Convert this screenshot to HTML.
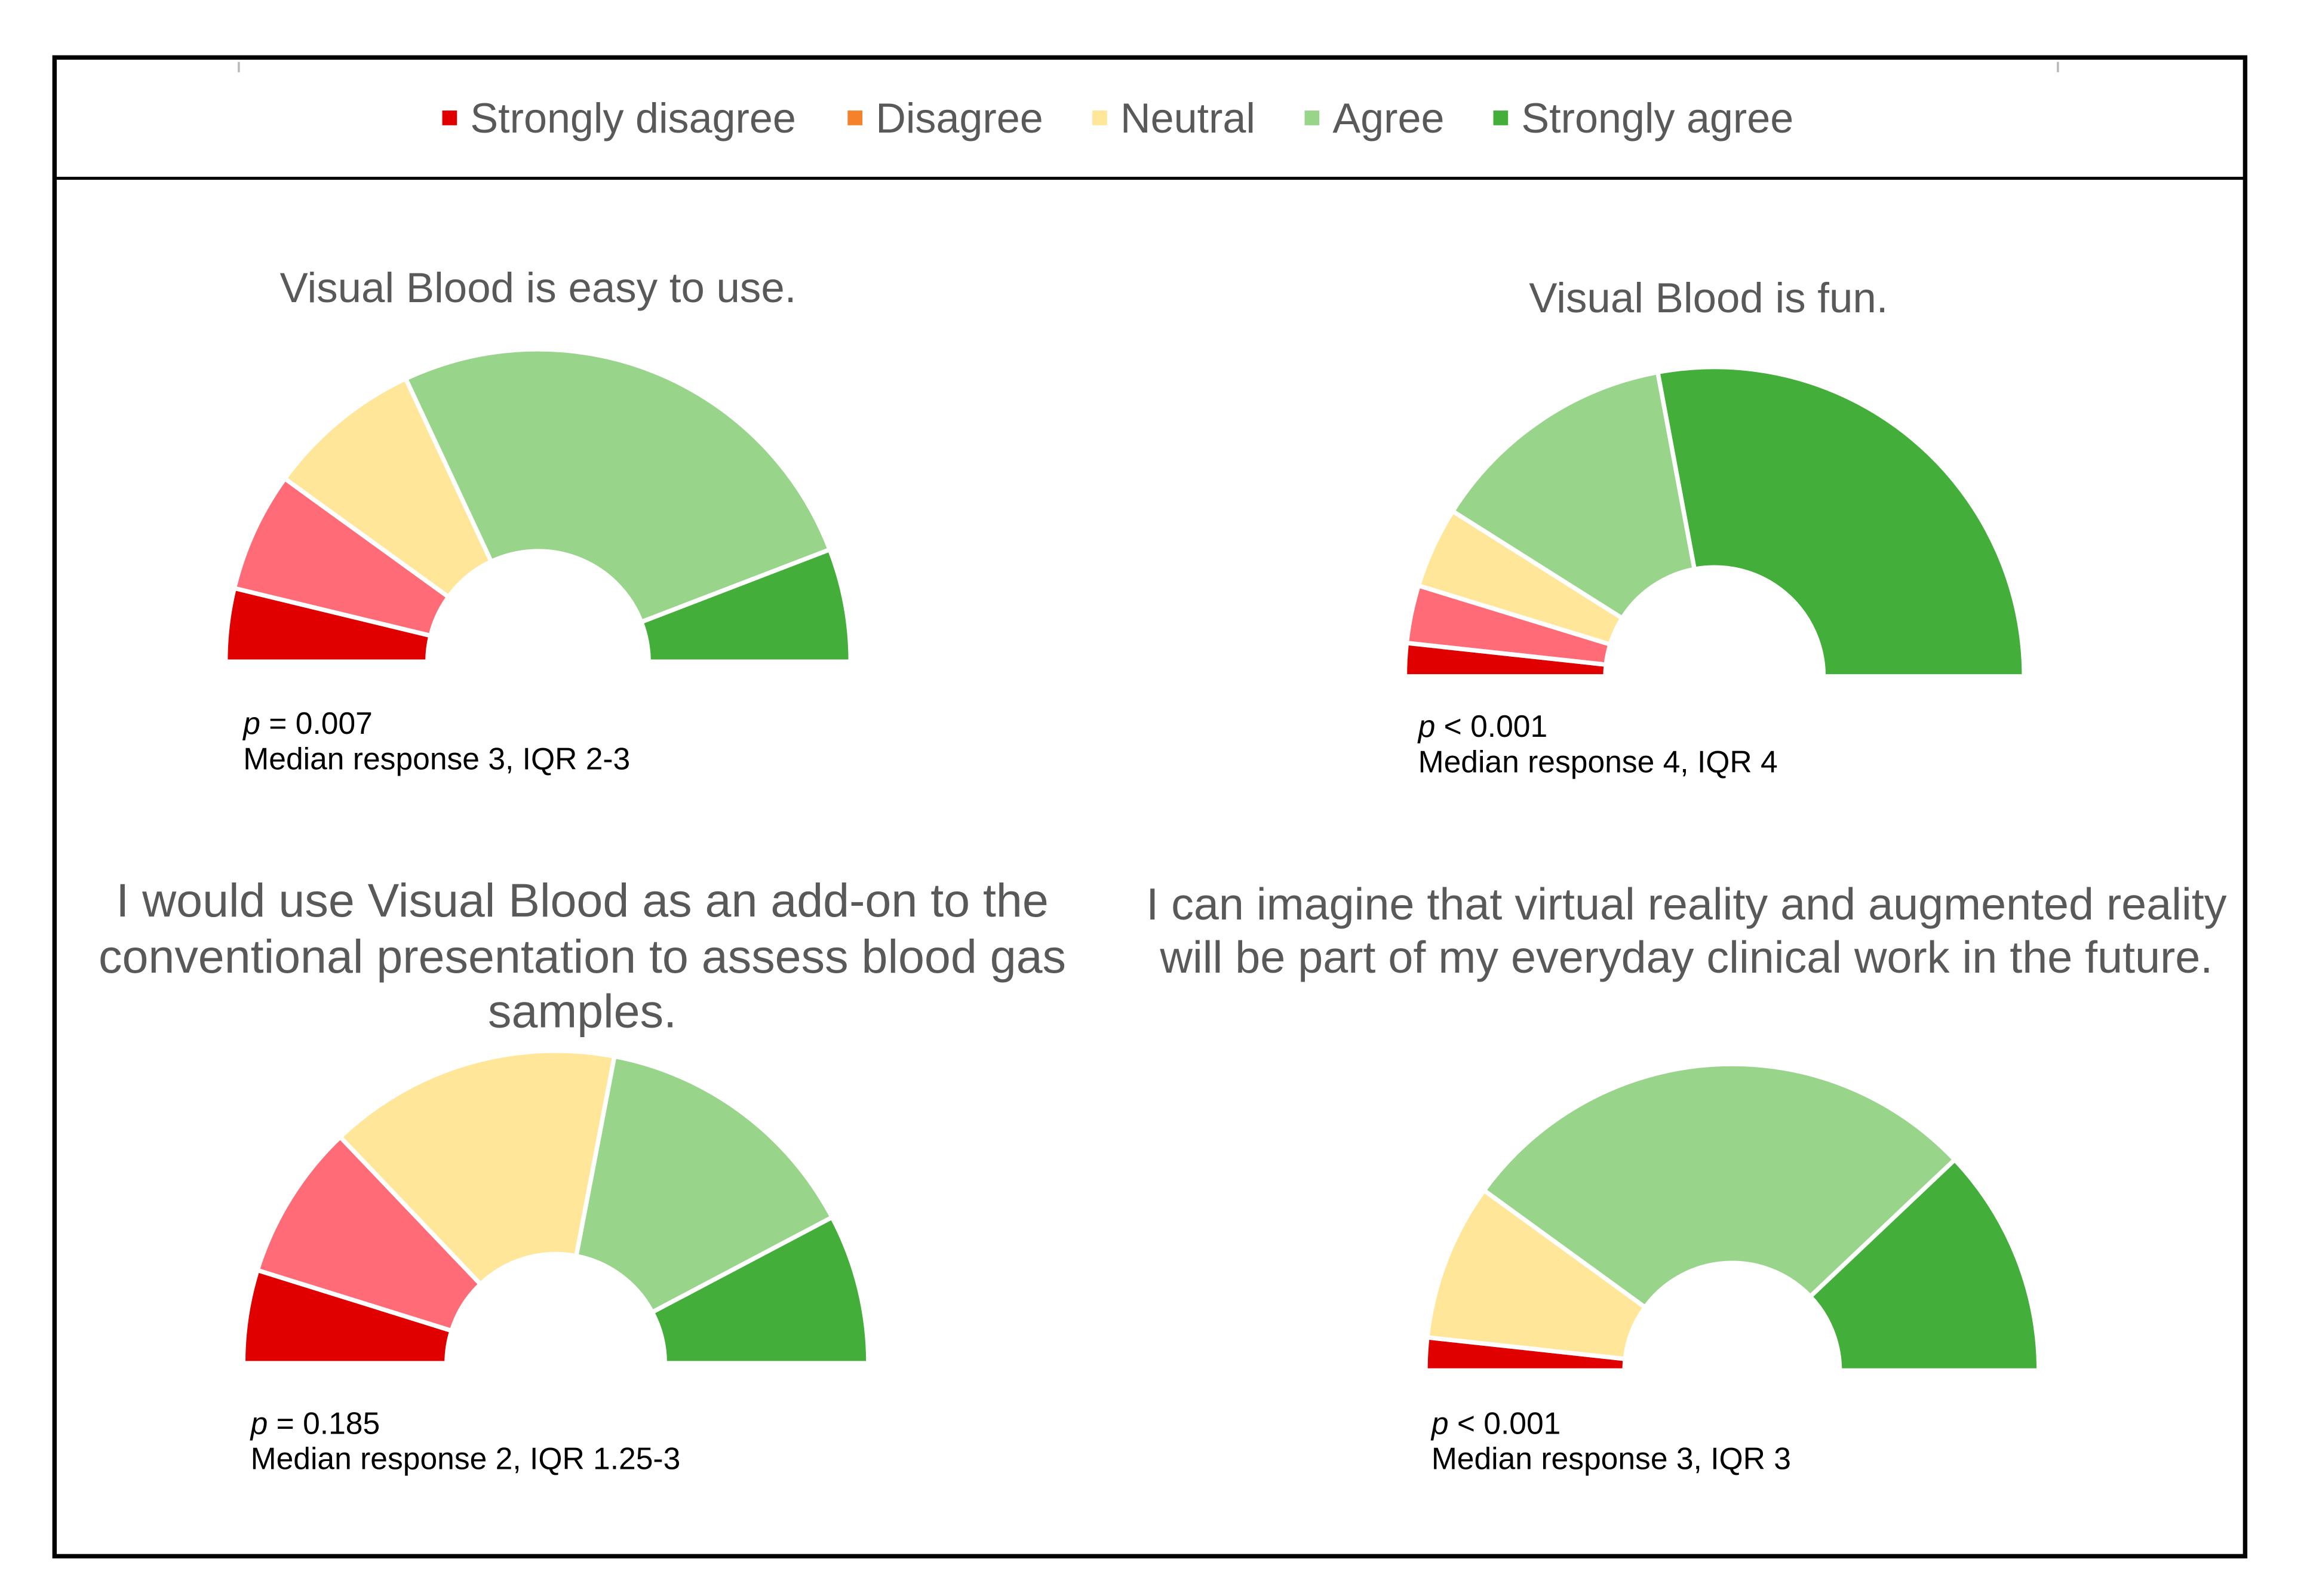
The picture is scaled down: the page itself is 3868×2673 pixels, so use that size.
<!DOCTYPE html>
<html>
<head>
<meta charset="utf-8">
<style>
html,body{margin:0;padding:0;background:#fff;}
svg{display:block;}
text{font-family:"Liberation Sans",Arial,sans-serif;}
</style>
</head>
<body>
<svg id="fig" width="3868" height="2673" viewBox="0 0 1567 1083" preserveAspectRatio="none" xmlns="http://www.w3.org/2000/svg">
  <rect x="0" y="0" width="1567" height="1083" fill="#fff"/>
  <rect x="37" y="39" width="1486" height="1017" fill="none" stroke="#000" stroke-width="3"/>
  <line x1="37" y1="121" x2="1523" y2="121" stroke="#000" stroke-width="2"/>
  <line x1="162" y1="42" x2="162" y2="49" stroke="#bbb" stroke-width="1.5"/>
  <line x1="1396" y1="42" x2="1396" y2="49" stroke="#bbb" stroke-width="1.5"/>
  <g id="legend"></g>
  <g id="charts"></g>
</svg>
<script>
const categories = ["Strongly disagree","Disagree","Neutral","Agree","Strongly agree"];
const legendColors = ["#e00000","#f5822a","#ffe699","#98d48a","#43ae3a"];
const sliceColors = ["#e00000","#ff6b77","#ffe699","#98d48a","#43ae3a"];
const easyValues = [2.2,3.6,4.7,15.2,3.4];
const funValues = [1,1.75,2.45,7.6,16.2];
const addonValues = [2.8,4.7,8.8,8.3,4.5];
const futureValues = [1,0,4.8,16.2,7];
const chartTitles = [
  ["Visual Blood is easy to use."],
  ["Visual Blood is fun."],
  ["I would use Visual Blood as an add-on to the","conventional presentation to assess blood gas","samples."],
  ["I can imagine that virtual reality and augmented reality","will be part of my everyday  clinical work in the future."]
];
const pLabels = ["0.007","0.001","0.185","0.001"];
const pOps = ["=","<","=","<"];
const medianLabels = ["Median response 3, IQR 2-3","Median response 4, IQR 4","Median response 2, IQR 1.25-3","Median response 3, IQR 3"];

const NS="http://www.w3.org/2000/svg";
function mk(tag,attrs,parent){const e=document.createElementNS(NS,tag);for(const k in attrs)e.setAttribute(k,attrs[k]);parent.appendChild(e);return e;}

const lg=document.getElementById('legend');
const legX=[300,575,741,885,1013];
categories.forEach((c,i)=>{
  const g=mk('g',{},lg);
  
  
  mk('rect',{x:legX[i],y:75,width:10,height:10,fill:legendColors[i]},g);
  const t=mk('text',{x:legX[i]+19,y:90,'font-size':28.4,fill:'#595959'},g);
  t.textContent=c;
});

const layouts=[
  {cx:365,cy:449,r:212,ri:75,tx:365,ty:[205],ts:28.7,px:165,py:491},
  {cx:1163,cy:459,r:210,ri:74,tx:1159,ty:[212],ts:28.7,px:962,py:493},
  {cx:377,cy:925,r:212,ri:74,tx:395,ty:[622,660,697],ts:32,px:170,py:966},
  {cx:1175,cy:930,r:208,ri:73,tx:1144,ty:[624,660],ts:30.6,px:971,py:966}
];
const series=[easyValues,funValues,addonValues,futureValues];
const names=["easy-to-use","fun","add-on","vr-ar-future"];
const charts=document.getElementById('charts');

function pt(cx,cy,r,a){return [cx-r*Math.cos(a), cy-r*Math.sin(a)];}
series.forEach((vals,ci)=>{
  const L=layouts[ci];
  const g=mk('g',{},charts);
  
  
  const title=mk('text',{'text-anchor':'middle','font-size':L.ts,fill:'#595959'},g);
  
  
  chartTitles[ci].forEach((line,li)=>{const s=mk('tspan',{x:L.tx,y:L.ty[li]},title);s.textContent=line;});
  const total=vals.reduce((a,b)=>a+b,0);
  let acc=0;
  vals.forEach((v,i)=>{
    if(v<=0){return;}
    const a0=acc/total*Math.PI, a1=(acc+v)/total*Math.PI; acc+=v;
    const p0=pt(L.cx,L.cy,L.r,a0),p1=pt(L.cx,L.cy,L.r,a1),q1=pt(L.cx,L.cy,L.ri,a1),q0=pt(L.cx,L.cy,L.ri,a0);
    const large=(a1-a0)>Math.PI?1:0;
    const d=`M${p0[0]},${p0[1]} A${L.r},${L.r} 0 ${large} 1 ${p1[0]},${p1[1]} L${q1[0]},${q1[1]} A${L.ri},${L.ri} 0 ${large} 0 ${q0[0]},${q0[1]} Z`;
    const p=mk('path',{d:d,fill:sliceColors[i],stroke:'#fff','stroke-width':3,'stroke-linejoin':'round'},g);
    
    
  });
  const pt1=mk('text',{x:L.px,y:L.py+7,'font-size':20.9,fill:'#000'},g);
  
  
  const it=mk('tspan',{'font-style':'italic'},pt1);it.textContent='p';
  const rt=mk('tspan',{},pt1);rt.textContent=' '+pOps[ci]+' '+pLabels[ci];
  const mt=mk('text',{x:L.px,y:L.py+31,'font-size':20.9,fill:'#000'},g);
  
  
  mt.textContent=medianLabels[ci];
});
</script>
</body>
</html>
